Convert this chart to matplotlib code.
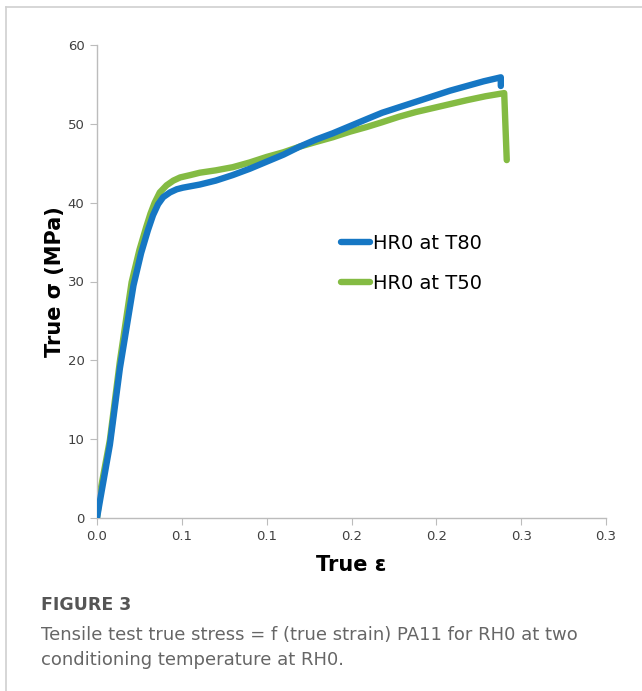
import matplotlib
matplotlib.use("Agg")
import matplotlib.pyplot as plt
from matplotlib.lines import Line2D

# Data
strain_t80 = [0.0, 0.002, 0.0076, 0.0135, 0.0215, 0.026, 0.030, 0.033, 0.036, 0.039, 0.043, 0.047,
              0.0506, 0.0606, 0.070, 0.080, 0.090, 0.100, 0.110, 0.1194, 0.129, 0.139, 0.149,
              0.159, 0.168, 0.178, 0.188, 0.198, 0.208, 0.218, 0.228, 0.238, 0.238]
stress_t80 = [0.0, 2.5, 9.3, 19.0, 29.5, 33.6, 36.5, 38.4, 39.8, 40.7, 41.3, 41.7,
              41.9, 42.3, 42.8, 43.5, 44.3, 45.2, 46.1, 47.1, 48.0, 48.8, 49.7,
              50.6, 51.4, 52.1, 52.8, 53.5, 54.2, 54.8, 55.4, 55.9, 54.8]
strain_t50 = [0.0, 0.0018, 0.0076, 0.0135, 0.0204, 0.025, 0.029, 0.0315, 0.034, 0.037, 0.041, 0.045,
              0.049, 0.055, 0.0606, 0.070, 0.080, 0.090, 0.100, 0.110, 0.1194, 0.129, 0.139,
              0.149, 0.159, 0.168, 0.178, 0.188, 0.198, 0.208, 0.218, 0.229, 0.240, 0.2415]
stress_t50 = [0.0, 3.2, 9.9, 19.9, 29.9, 34.0, 36.9, 38.6, 40.0, 41.3, 42.2, 42.8,
              43.2, 43.5, 43.8, 44.1, 44.5, 45.1, 45.8, 46.4, 47.1, 47.7, 48.3,
              49.0, 49.6, 50.2, 50.9, 51.5, 52.0, 52.5, 53.0, 53.5, 53.9, 45.4]
series_labels = ["HR0 at T80", "HR0 at T50"]
x_ticks = [0.0, 0.05, 0.10, 0.15, 0.20, 0.25, 0.30]
x_tick_labels = ["0.0", "0.1", "0.1", "0.2", "0.2", "0.3", "0.3"]
y_ticks = [0, 10, 20, 30, 40, 50, 60]

blue = "#1677c4"
green = "#84bb43"

fig = plt.figure(figsize=(6.42, 6.91), dpi=100)
ax = fig.add_axes([97/642, 1-518/691, (606-97)/642, (518-45)/691])

lw = 4.6
ax.plot(strain_t80, stress_t80, color=blue, lw=lw, solid_capstyle="round", solid_joinstyle="round", zorder=3)
ax.plot(strain_t50, stress_t50, color=green, lw=lw, solid_capstyle="round", solid_joinstyle="round", zorder=2)

ax.set_xlim(0, 0.3)
ax.set_ylim(0, 60)
ax.set_xticks(x_ticks)
ax.set_yticks(y_ticks)
ax.set_xticklabels(x_tick_labels)
ax.set_yticklabels([str(v) for v in y_ticks])
for s in ["top", "right"]:
    ax.spines[s].set_visible(False)
for s in ["left", "bottom"]:
    ax.spines[s].set_color("#bcbcbc")
    ax.spines[s].set_linewidth(1.0)
ax.tick_params(axis="both", direction="out", length=5, color="#bcbcbc", labelsize=9.5,
               labelcolor="#404040", pad=4)

ax.set_xlabel("True ε", fontsize=15, fontweight="bold", labelpad=8)
ax.set_ylabel("True σ (MPa)", fontsize=15, fontweight="bold", labelpad=2)

handles = [Line2D([0], [0], color=blue, lw=lw, solid_capstyle="round"),
           Line2D([0], [0], color=green, lw=lw, solid_capstyle="round")]
ax.legend(handles, series_labels, loc="upper left", bbox_to_anchor=((333-97)/509, 1-(226-45)/473),
          frameon=False, fontsize=14, handlelength=1.5, handletextpad=0.15, labelspacing=1.1,
          borderaxespad=0)

# Frame
fig.add_artist(Line2D([6/642, 1.0], [1-7/691, 1-7/691], color="#d0d0d0", lw=1.2))
fig.add_artist(Line2D([6/642, 6/642], [0, 1-7/691], color="#d0d0d0", lw=1.2))

# Caption
fig.text(41/642, 1-605/691, "FIGURE 3", fontsize=12.5, color="#555555", fontweight="semibold",
         va="center", ha="left")
fig.text(41/642, 1-635/691, "Tensile test true stress = f (true strain) PA11 for RH0 at two",
         fontsize=13, color="#666666", va="center", ha="left")
fig.text(41/642, 1-660/691, "conditioning temperature at RH0.",
         fontsize=13, color="#666666", va="center", ha="left")

fig.savefig("out.png", dpi=100)
